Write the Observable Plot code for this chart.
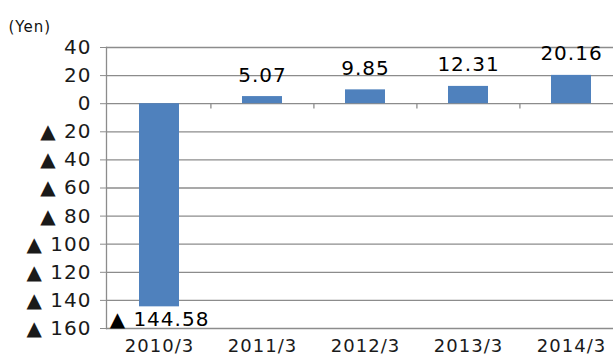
<!DOCTYPE html>
<html>
<head>
<meta charset="utf-8">
<script src="https://cdn.jsdelivr.net/npm/d3@7"></script>
<script src="https://cdn.jsdelivr.net/npm/@observablehq/plot@0.6"></script>
<style>
  html, body { margin: 0; padding: 0; background: #fff; overflow: hidden; }
  #chart svg { display: block; }
  #chart svg text { letter-spacing: 1px; }
</style>
</head>
<body>
<div id="chart"></div>
<script>
const categories = ["2010/3", "2011/3", "2012/3", "2013/3", "2014/3"];
const values = [-144.58, 5.07, 9.85, 12.31, 20.16];
const yTicks = [40, 20, 0, -20, -40, -60, -80, -100, -120, -140, -160];
const unitLabel = "(Yen)";

const data = categories.map((c, i) => ({category: c, value: values[i]}));
const fmt = v => v < 0 ? "▲ " + (-v) : String(v);
const fmtVal = v => v < 0 ? "▲ " + (-v).toFixed(2) : v.toFixed(2);
const font = "'DejaVu Sans', 'Liberation Sans', sans-serif";
const gray = "#8c8c8c";

const chart = Plot.plot({
  width: 613,
  height: 358,
  marginTop: 47,
  marginBottom: 30,
  marginLeft: 106,
  marginRight: 0,
  style: {fontFamily: font, background: "#fff", overflow: "visible"},
  x: {domain: categories, range: [106.8, 623], paddingInner: 0.61, paddingOuter: 0.305, axis: null},
  y: {domain: [-160, 40], axis: null},
  marks: [
    Plot.gridY(yTicks, {stroke: gray, strokeOpacity: 1, strokeWidth: 1.3}),
    Plot.frame({anchor: "left", stroke: gray, strokeWidth: 1.3}),
    Plot.ruleX(categories.slice(1), {x: d => d, y1: 0, y2: -3.8, dx: -51.6, stroke: gray, strokeWidth: 1.3}),
    Plot.barY(data, {x: "category", y: "value", fill: "#4F81BD"}),
    Plot.axisY({ticks: yTicks, tickFormat: fmt, tickSize: 6, tickPadding: 9, stroke: gray, fontSize: 20, fill: "#1a1a1a", label: null}),
    Plot.axisX({tickSize: 0, tickPadding: 11, fontSize: 18, fill: "#1a1a1a", label: null}),
    Plot.text(data.filter(d => d.value >= 0), {x: "category", y: "value", text: d => fmtVal(d.value), lineAnchor: "bottom", dy: -15, fontSize: 20, fill: "#000"}),
    Plot.text(data.filter(d => d.value < 0), {x: "category", y: "value", text: d => fmtVal(d.value), lineAnchor: "top", dy: 5, fontSize: 20, fill: "#000"}),
    Plot.text([unitLabel], {text: d => d, frameAnchor: "top-left", textAnchor: "start", dx: -98, dy: -26, fontSize: 15, fill: "#111"})
  ]
});
document.getElementById("chart").appendChild(chart);
</script>
</body>
</html>
